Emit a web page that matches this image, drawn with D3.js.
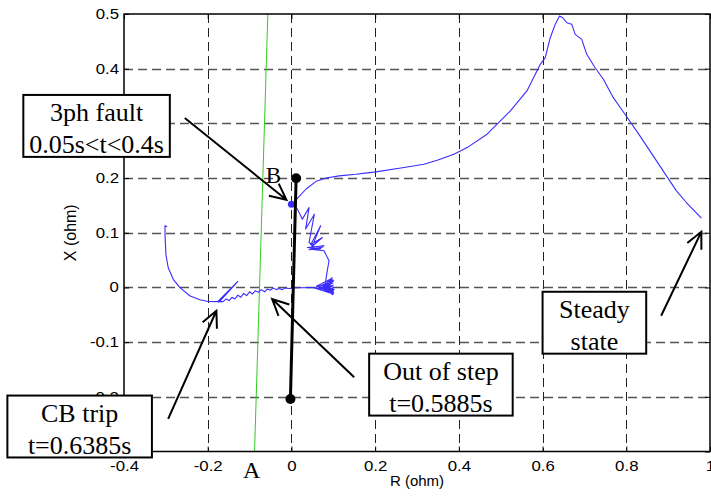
<!DOCTYPE html>
<html>
  <head>
    <!-- load the d3 javascript library -->
    <script src="https://d3js.org/d3.v7.min.js"></script>
    <style>
      body { margin: 0; background: #fff; }
    </style>
  </head>
  <body>

    <script>

    // tick labels on both axes
    var xTicks = [-0.4, -0.2, 0, 0.2, 0.4, 0.6, 0.8, 1];
    var yTicks = [-0.3, -0.2, -0.1, 0, 0.1, 0.2, 0.3, 0.4, 0.5];

    // impedance trajectory [R, X], in time order
    var trajectory = [
      [0.9793,0.1268],[0.9436,0.1553],[0.9198,0.1766],[0.896,0.204],[0.8643,0.2406],
      [0.8326,0.2771],[0.7969,0.3167],[0.769,0.347],[0.7452,0.3806],[0.7255,0.4018],
      [0.7055,0.4263],[0.6936,0.4537],[0.6779,0.4628],[0.6698,0.4811],[0.6579,0.484],
      [0.6483,0.4932],[0.6405,0.4963],[0.6302,0.4811],[0.6183,0.4566],[0.6064,0.4201],
      [0.5945,0.408],[0.5826,0.3898],[0.5626,0.3593],[0.5231,0.3227],[0.4674,0.2802],
      [0.4198,0.2557],[0.388,0.2437],[0.3483,0.2327],[0.3167,0.2254],[0.269,0.2192],
      [0.1976,0.2108],[0.186,0.210],[0.154,0.207],[0.114,0.204],[0.083,0.200],
      [0.059,0.194],[0.035,0.180],[0.011,0.160],[0.0017,0.152],
      // fault period spikes
      [0.0143,0.1432],[0.0262,0.1249],[0.0421,0.146],[0.034,0.1067],[0.0548,0.134],
      [0.0421,0.0822],[0.05,0.076],[0.0698,0.1127],[0.046,0.078],[0.0738,0.0913],
      [0.048,0.074],[0.0779,0.0762],[0.038,0.073],[0.07,0.071],[0.042,0.069],
      [0.075,0.074],[0.045,0.07],[0.0779,0.067],[0.0898,0.0488],[0.085,0.0274],
      [0.0826,0.0153],[0.08,0.005],
      // oscillation blob near X = 0
      [0.095,0.016],[0.06,0.002],[0.1,-0.012],[0.055,-0.001],[0.101,0.012],[0.065,0.001],
      [0.1,-0.008],[0.07,-0.002],[0.099,0.008],[0.075,0.002],[0.102,-0.004],[0.072,-0.001],
      [0.1,0.004],[0.08,0],[0.098,-0.013],[0.085,0.003],[0.097,0.018],[0.088,-0.005],
      [0.102,0.0],[0.078,0.006],[0.101,-0.01],[0.083,-0.004],[0.099,0.014],[0.09,0.002],
      [0.1,-0.006],[0.047,0.0],
      // along the R axis towards the left
      [0.02,-0.0005],[0.0,-0.001],[-0.005,-0.002],[-0.015,-0.001],[-0.022,-0.004],
      [-0.03,-0.002],[-0.036,-0.004],[-0.044,-0.001],[-0.05,-0.005],[-0.058,-0.003],
      [-0.064,-0.008],[-0.072,-0.004],[-0.079,-0.009],[-0.086,-0.006],[-0.093,-0.012],
      [-0.1,-0.008],[-0.107,-0.015],[-0.114,-0.011],[-0.121,-0.018],[-0.128,-0.014],
      [-0.135,-0.021],[-0.142,-0.018],[-0.149,-0.024],[-0.156,-0.021],[-0.163,-0.026],
      [-0.1755,-0.0256],[-0.128,0.011],[-0.174,-0.027],[-0.129,0.010],[-0.172,-0.026],
      [-0.1993,-0.0256],[-0.219,-0.0225],[-0.243,-0.0152],[-0.267,0.0],[-0.2826,0.0153],
      [-0.2945,0.0365],[-0.3,0.061],[-0.302,0.0975],[-0.302,0.113],[-0.297,0.111]
    ];

    // point B (fault impedance)
    var pointB = [0.0, 0.152];

    // relay characteristic line A and the black line with end dots
    var lineA = [[-0.0881, -0.3], [-0.0564, 0.5]];
    var lineBlack = [[-0.0024, -0.204], [0.0112, 0.1998]];

    // text boxes with arrows, in axes units
    var notes = [
      { lines: ["3ph fault", "0.05s<t<0.4s"], box: [-0.6405, 0.352, -0.2905, 0.2387],
        from: [-0.2548, 0.3099], to: [-0.0119, 0.1602] },
      { lines: ["CB trip", "t=0.6385s"], box: [-0.6786, -0.1977, -0.3333, -0.3109],
        from: [-0.2945, -0.2404], to: [-0.1793, -0.0426] },
      { lines: ["Out of step", "t=0.5885s"], box: [0.1857, -0.1211, 0.5286, -0.2343],
        from: [0.15, -0.1644], to: [-0.046, -0.0212] },
      { lines: ["Steady", "state"], box: [0.6, -0.0079, 0.8476, -0.1211],
        from: [0.8833, -0.0517], to: [0.9793, 0.1017] }
    ];

    var w = 711;
    var h = 497;
    var padL = 124, padR = 710, padT = 14, padB = 451.5;

    var x = d3.scaleLinear().domain([-0.4, 1]).range([padL, padR]);
    var y = d3.scaleLinear().domain([-0.3, 0.5]).range([padB, padT]);

    var fmt = function(d) { return d === 0 ? "0" : String(+d.toFixed(1)); };

    var svg = d3.select("body")
      .append("svg")
      .attr("width", w)
      .attr("height", h);

    // dashed grid
    svg.append("g")
      .selectAll("line")
      .data(xTicks.slice(1, -1))
      .enter()
      .append("line")
      .attr("x1", function(d) { return Math.round(x(d)) + 0.5; })
      .attr("x2", function(d) { return Math.round(x(d)) + 0.5; })
      .attr("y1", padT)
      .attr("y2", padB)
      .attr("stroke", "#222")
      .attr("stroke-dasharray", "9,5");

    svg.append("g")
      .selectAll("line")
      .data(yTicks.slice(1, -1))
      .enter()
      .append("line")
      .attr("x1", padL)
      .attr("x2", padR)
      .attr("y1", function(d) { return Math.round(y(d)) + 0.5; })
      .attr("y2", function(d) { return Math.round(y(d)) + 0.5; })
      .attr("stroke", "#555")
      .attr("stroke-width", 1.3)
      .attr("stroke-dasharray", "9,5");

    var line = d3.line()
      .x(function(d) { return x(d[0]); })
      .y(function(d) { return y(d[1]); });

    // green line A
    svg.append("path")
      .attr("d", line(lineA))
      .attr("fill", "none")
      .attr("stroke", "#33cc22")
      .attr("stroke-width", 1);

    // blue trajectory
    svg.append("path")
      .attr("d", line(trajectory))
      .attr("fill", "none")
      .attr("stroke", "#3a2cff")
      .attr("stroke-width", 1.1)
      .attr("stroke-linejoin", "round");

    svg.append("circle")
      .attr("cx", x(pointB[0]))
      .attr("cy", y(pointB[1]))
      .attr("r", 3.5)
      .attr("fill", "#3a2cff");

    // black line with end dots
    svg.append("path")
      .attr("d", line(lineBlack))
      .attr("stroke", "#000")
      .attr("stroke-width", 3);

    svg.selectAll("circle.end")
      .data(lineBlack)
      .enter()
      .append("circle")
      .attr("class", "end")
      .attr("cx", function(d) { return x(d[0]); })
      .attr("cy", function(d) { return y(d[1]); })
      .attr("r", 5)
      .attr("fill", "#000");

    // axes with inward ticks
    var xAxis = svg.append("g")
      .attr("transform", "translate(0," + padB + ")")
      .call(d3.axisBottom(x).tickValues(xTicks).tickSize(-5).tickSizeOuter(0).tickPadding(10).tickFormat(fmt));
    var yAxis = svg.append("g")
      .attr("transform", "translate(" + padL + ",0)")
      .call(d3.axisLeft(y).tickValues(yTicks).tickSize(-5).tickSizeOuter(0).tickPadding(4.2).tickFormat(fmt));
    svg.append("g")
      .attr("transform", "translate(0," + padT + ")")
      .call(d3.axisTop(x).tickValues(xTicks).tickSize(-5).tickSizeOuter(0).tickFormat(""));
    svg.append("g")
      .attr("transform", "translate(" + padR + ",0)")
      .call(d3.axisRight(y).tickValues(yTicks).tickSize(-5).tickSizeOuter(0).tickFormat(""));

    svg.selectAll(".domain").remove();
    svg.selectAll(".tick line").attr("stroke", "#000");
    [xAxis, yAxis].forEach(function(a) {
      a.selectAll("text")
        .attr("font-family", "Liberation Sans, Arial, Helvetica, sans-serif")
        .attr("font-size", "14px")
        .attr("fill", "#000")
        .attr("transform", "scale(1.2,1)");
    });

    // frame
    svg.append("rect")
      .attr("x", padL)
      .attr("y", padT)
      .attr("width", padR - padL)
      .attr("height", padB - padT)
      .attr("fill", "none")
      .attr("stroke", "#000")
      .attr("stroke-width", 1.5);

    // axis titles
    svg.append("text")
      .attr("x", (padL + padR) / 2)
      .attr("y", 486)
      .attr("text-anchor", "middle")
      .attr("font-family", "Liberation Sans, Arial, Helvetica, sans-serif")
      .attr("font-size", "15px")
      .text("R (ohm)");

    svg.append("text")
      .attr("transform", "translate(76," + (padT + padB) / 2 + ") rotate(-90)")
      .attr("text-anchor", "middle")
      .attr("font-family", "Liberation Sans, Arial, Helvetica, sans-serif")
      .attr("font-size", "16px")
      .text("X (ohm)");

    // point names
    var serif = "Liberation Serif, Times New Roman, serif";
    svg.append("text")
      .attr("x", x(-0.0952))
      .attr("y", y(-0.349))
      .attr("text-anchor", "middle")
      .attr("font-family", serif)
      .attr("font-size", "24px")
      .text("A");
    svg.append("text")
      .attr("x", x(-0.0429))
      .attr("y", y(0.1918))
      .attr("text-anchor", "middle")
      .attr("font-family", serif)
      .attr("font-size", "23px")
      .text("B");

    // annotation boxes and arrows
    var note = svg.selectAll("g.note")
      .data(notes)
      .enter()
      .append("g")
      .attr("class", "note");

    note.append("rect")
      .attr("x", function(d) { return x(d.box[0]); })
      .attr("y", function(d) { return y(d.box[1]); })
      .attr("width", function(d) { return x(d.box[2]) - x(d.box[0]); })
      .attr("height", function(d) { return y(d.box[3]) - y(d.box[1]); })
      .attr("fill", "#fff")
      .attr("stroke", "#000")
      .attr("stroke-width", 2);

    note.each(function(d) {
      var g = d3.select(this);
      var cx = (x(d.box[0]) + x(d.box[2])) / 2;
      d.lines.forEach(function(t, i) {
        g.append("text")
          .attr("x", cx)
          .attr("y", y(d.box[1]) + 26.5 + i * 31.5)
          .attr("text-anchor", "middle")
          .attr("font-family", serif)
          .attr("font-size", "26px")
          .text(t);
      });

      // shaft and open arrow head
      var x1 = x(d.from[0]), y1 = y(d.from[1]);
      var x2 = x(d.to[0]), y2 = y(d.to[1]);
      var ang = Math.atan2(y2 - y1, x2 - x1);
      var len = 18, spread = 0.45;
      var head = [ang + Math.PI - spread, ang + Math.PI + spread].map(function(a) {
        return [x2 + len * Math.cos(a), y2 + len * Math.sin(a)];
      });
      g.append("path")
        .attr("d", "M" + x1 + "," + y1 + "L" + x2 + "," + y2 +
                   "M" + head[0] + "L" + x2 + "," + y2 + "L" + head[1])
        .attr("fill", "none")
        .attr("stroke", "#000")
        .attr("stroke-width", 2);
    });

    </script>
  </body>
</html>
